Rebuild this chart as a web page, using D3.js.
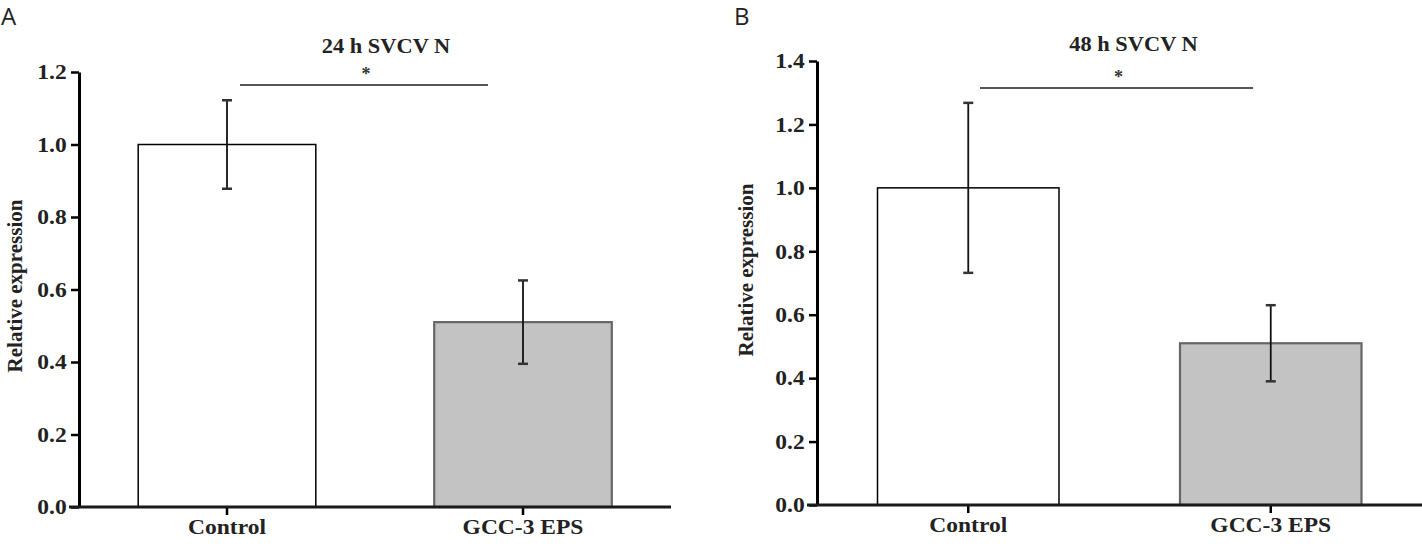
<!DOCTYPE html>
<html>
<head>
<meta charset="utf-8">
<script src="https://cdn.jsdelivr.net/npm/d3@7"></script>
<style>
  body { margin: 0; background: #fff; }
  svg { display: block; }
  .serif { font-family: "Liberation Serif", "Times New Roman", serif; font-weight: bold; }
</style>
</head>
<body>
<svg id="chart" width="1422" height="547"></svg>
<script>
// data
const categories = ["Control", "GCC-3 EPS"];
const means24 = [1.0, 0.51];
const errors24 = [0.122, 0.115];
const means48 = [1.0, 0.51];
const errors48 = [0.268, 0.12];
const ticks24 = [0, 0.2, 0.4, 0.6, 0.8, 1.0, 1.2];
const ticks48 = [0, 0.2, 0.4, 0.6, 0.8, 1.0, 1.2, 1.4];
const titles = ["24 h SVCV N", "48 h SVCV N"];
const panelLetters = ["A", "B"];
const yLabel = "Relative expression";

const svg = d3.select("#chart");
const stretch = "scale(1.12,1)"; // the figure text is a bit wide

function drawPanel(p) {
    let g = svg.append("g");

    let y = d3.scaleLinear()
        .domain([0, d3.max(p.ticks)])
        .range([p.bottom, p.top]);

    let x = d3.scaleBand()
        .domain(categories)
        .range([p.left, p.right])
        .paddingInner(0.4)
        .paddingOuter(0.2);

    // bars
    g.selectAll("rect.bar")
        .data(p.means)
        .join("rect")
        .attr("class", "bar")
        .attr("x", (d, i) => x(categories[i]))
        .attr("y", d => y(d))
        .attr("width", x.bandwidth())
        .attr("height", d => y(0) - y(d))
        .attr("fill", (d, i) => i == 0 ? "#ffffff" : "#c3c3c3")
        .attr("stroke", (d, i) => i == 0 ? "#000" : "#666")
        .attr("stroke-width", (d, i) => i == 0 ? 1.5 : 2.2);

    // error bars
    let cx = i => x(categories[i]) + x.bandwidth() / 2;
    g.selectAll("line.err")
        .data(p.means)
        .join("line")
        .attr("class", "err")
        .attr("x1", (d, i) => cx(i)).attr("x2", (d, i) => cx(i))
        .attr("y1", (d, i) => y(d + p.errors[i]))
        .attr("y2", (d, i) => y(d - p.errors[i]))
        .attr("stroke", "#111").attr("stroke-width", 1.8);

    let caps = [];
    p.means.forEach((d, i) => {
        caps.push({ i: i, v: d + p.errors[i] });
        caps.push({ i: i, v: d - p.errors[i] });
    });
    g.selectAll("line.cap")
        .data(caps)
        .join("line")
        .attr("class", "cap")
        .attr("x1", d => cx(d.i) - 5).attr("x2", d => cx(d.i) + 5)
        .attr("y1", d => y(d.v)).attr("y2", d => y(d.v))
        .attr("stroke", "#333").attr("stroke-width", 2.5);

    // y axis
    let yAxis = g.append("g")
        .attr("transform", `translate(${p.left},0)`)
        .call(d3.axisLeft(y).tickValues(p.ticks).tickFormat(d3.format(".1f"))
            .tickSize(8).tickSizeOuter(0).tickPadding(3));
    yAxis.select(".domain").attr("stroke", "#000").attr("stroke-width", 3);
    yAxis.selectAll(".tick line").attr("stroke", "#000").attr("stroke-width", 2.5);
    yAxis.selectAll(".tick text")
        .attr("class", "serif")
        .attr("font-size", 21)
        .attr("fill", "#222")
        .attr("transform", stretch);

    // x axis
    let xAxis = g.append("g")
        .attr("transform", `translate(0,${p.bottom})`)
        .call(d3.axisBottom(x).tickSize(8).tickSizeOuter(0).tickPadding(4));
    xAxis.select(".domain").remove();
    xAxis.selectAll(".tick line").attr("stroke", "#000").attr("stroke-width", 2.5);
    xAxis.selectAll(".tick text")
        .attr("class", "serif")
        .attr("font-size", 21)
        .attr("fill", "#222")
        .attr("transform", stretch);
    // the axis line runs a little past the y axis on the left
    g.append("line")
        .attr("x1", p.left - 10).attr("x2", p.right)
        .attr("y1", y(0)).attr("y2", y(0))
        .attr("stroke", "#1a1a1a").attr("stroke-width", 3);

    // y label
    g.append("text")
        .attr("class", "serif")
        .attr("font-size", 21)
        .attr("fill", "#222")
        .attr("text-anchor", "middle")
        .attr("transform", `translate(${p.labelX},${p.labelY}) rotate(-90)`)
        .text(yLabel);

    // title
    let mid = (cx(0) + cx(1)) / 2;
    g.append("text")
        .attr("class", "serif")
        .attr("font-size", 20)
        .attr("fill", "#222")
        .attr("text-anchor", "middle")
        .attr("transform", `translate(${mid + p.titleShift},${p.titleY}) ${stretch}`)
        .text(p.title);

    // significance line and star
    g.append("line")
        .attr("x1", p.sig[0]).attr("x2", p.sig[1])
        .attr("y1", p.sigY).attr("y2", p.sigY)
        .attr("stroke", "#555").attr("stroke-width", 2.2);
    g.append("text")
        .attr("class", "serif")
        .attr("font-size", 18)
        .attr("fill", "#333")
        .attr("text-anchor", "middle")
        .attr("x", (p.sig[0] + p.sig[1]) / 2 + 2)
        .attr("y", p.sigY - 5)
        .text("*");

    // panel letter
    svg.append("text")
        .attr("x", p.letterX).attr("y", 25)
        .attr("font-family", "'Open Sans', sans-serif")
        .attr("font-size", 24)
        .attr("fill", "#222")
        .text(p.letter);
}

drawPanel({
    means: means24, errors: errors24, ticks: ticks24,
    title: titles[0], letter: panelLetters[0],
    left: 79, right: 671, top: 72, bottom: 507,
    labelX: 22, labelY: 286, titleY: 53, titleShift: 11,
    sig: [240, 488], sigY: 85, letterX: 1
});

drawPanel({
    means: means48, errors: errors48, ticks: ticks48,
    title: titles[1], letter: panelLetters[1],
    left: 817, right: 1422, top: 61, bottom: 505,
    labelX: 753, labelY: 270, titleY: 51, titleShift: 14,
    sig: [980, 1253], sigY: 88, letterX: 734
});
</script>
</body>
</html>
